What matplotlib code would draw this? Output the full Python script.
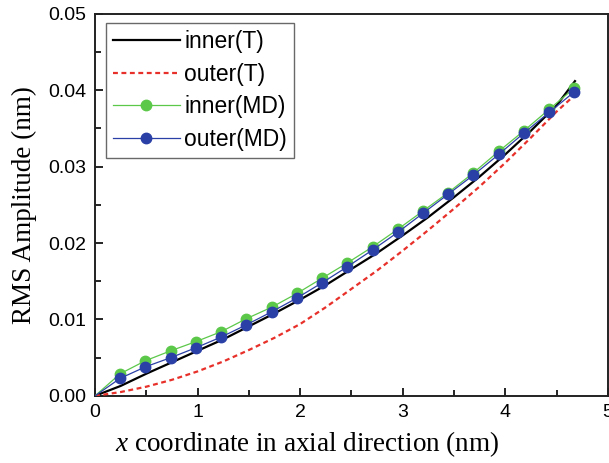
import matplotlib
matplotlib.use("Agg")
import matplotlib.pyplot as plt
import numpy as np
from matplotlib.ticker import MultipleLocator, FormatStrFormatter

# curvas teóricas
x_teoria = [0, 0.25, 0.5, 0.75, 1.0, 1.25, 1.5, 1.75, 2.0, 2.25, 2.5,
            2.75, 3.0, 3.25, 3.5, 3.75, 4.0, 4.25, 4.5, 4.68]
inner_t = [0, 0.0013, 0.0029, 0.0044, 0.0059, 0.0074, 0.0091, 0.0108, 0.0126,
           0.0145, 0.0166, 0.0187, 0.0210, 0.0234, 0.0260, 0.0287, 0.0316,
           0.0347, 0.0380, 0.0412]
outer_t = [0, 0.0005, 0.0012, 0.0021, 0.0032, 0.0045, 0.0060, 0.0076, 0.0094,
           0.0116, 0.0140, 0.0164, 0.0190, 0.0217, 0.0245, 0.0274, 0.0305,
           0.0338, 0.0372, 0.0394]

# resultados de dinâmica molecular
x_md = [0, 0.246, 0.492, 0.738, 0.984, 1.23, 1.476, 1.722, 1.968, 2.214, 2.46,
        2.706, 2.952, 3.198, 3.444, 3.69, 3.936, 4.182, 4.428, 4.674]
inner_md = [0, 0.0029, 0.0046, 0.0059, 0.0071, 0.0084, 0.0101, 0.0116, 0.0134,
            0.0154, 0.0174, 0.0195, 0.0218, 0.0242, 0.0266, 0.0292, 0.0320,
            0.0347, 0.0375, 0.0403]
outer_md = [0, 0.0023, 0.0038, 0.0050, 0.0063, 0.0077, 0.0093, 0.0110, 0.0128,
            0.0148, 0.0169, 0.0191, 0.0214, 0.0239, 0.0264, 0.0289, 0.0316,
            0.0344, 0.0371, 0.0398]

plt.rcParams['font.family'] = ['Liberation Sans', 'DejaVu Sans']
plt.rcParams['mathtext.fontset'] = 'custom'
plt.rcParams['mathtext.it'] = 'Liberation Serif:italic'
plt.rcParams['mathtext.rm'] = 'Liberation Serif'

fig = plt.figure(figsize=(6.09, 4.63), dpi=100)
ax = fig.add_axes([0.156, 0.145, 0.842, 0.825])

ax.plot(x_teoria, inner_t, color='black', lw=1.6, label='inner(T)', zorder=3)
ax.plot(x_teoria, outer_t, color='#e8302a', lw=1.6, ls=(0, (2.2, 1.6)),
        label='outer(T)', zorder=3)
marcas = list(range(1, len(x_md)))
ax.plot(x_md, inner_md, color='#5cc84a', lw=0.9, marker='o', ms=7.5,
        markevery=marcas, label='inner(MD)', zorder=4)
ax.plot(x_md, outer_md, color='#2b40a6', lw=0.9, marker='o', ms=7.5,
        markevery=marcas, label='outer(MD)', zorder=5)

ax.set_xlim(0, 5)
ax.set_ylim(0, 0.05)
ax.xaxis.set_major_locator(MultipleLocator(1))
ax.xaxis.set_minor_locator(MultipleLocator(0.5))
ax.yaxis.set_major_locator(MultipleLocator(0.01))
ax.yaxis.set_minor_locator(MultipleLocator(0.005))
ax.yaxis.set_major_formatter(FormatStrFormatter('%.2f'))
ax.tick_params(which='both', direction='in', labelsize=14, width=1.2)
ax.tick_params(which='major', length=6, pad=6)
ax.tick_params(which='minor', length=4)
for s in ax.spines.values():
    s.set_linewidth(1.4)
    s.set_color('#222222')

ax.set_ylabel('RMS Amplitude (nm)', family='Liberation Serif', fontsize=19.5,
              labelpad=8)
ax.set_xlabel(r'$x$ coordinate in axial direction (nm)',
              family='Liberation Serif', fontsize=19.5, labelpad=6)
ax.xaxis.set_label_coords(0.413, -0.087)

leg = ax.legend(loc='upper left', bbox_to_anchor=(0.022, 0.976), fontsize=16.5,
                frameon=True, fancybox=False, handlelength=2.9,
                borderaxespad=0, labelspacing=0.42, handletextpad=0.2,
                borderpad=0.3)
leg.get_frame().set_edgecolor('#444444')
leg.get_frame().set_linewidth(1.0)

fig.savefig('out.png', dpi=100)
